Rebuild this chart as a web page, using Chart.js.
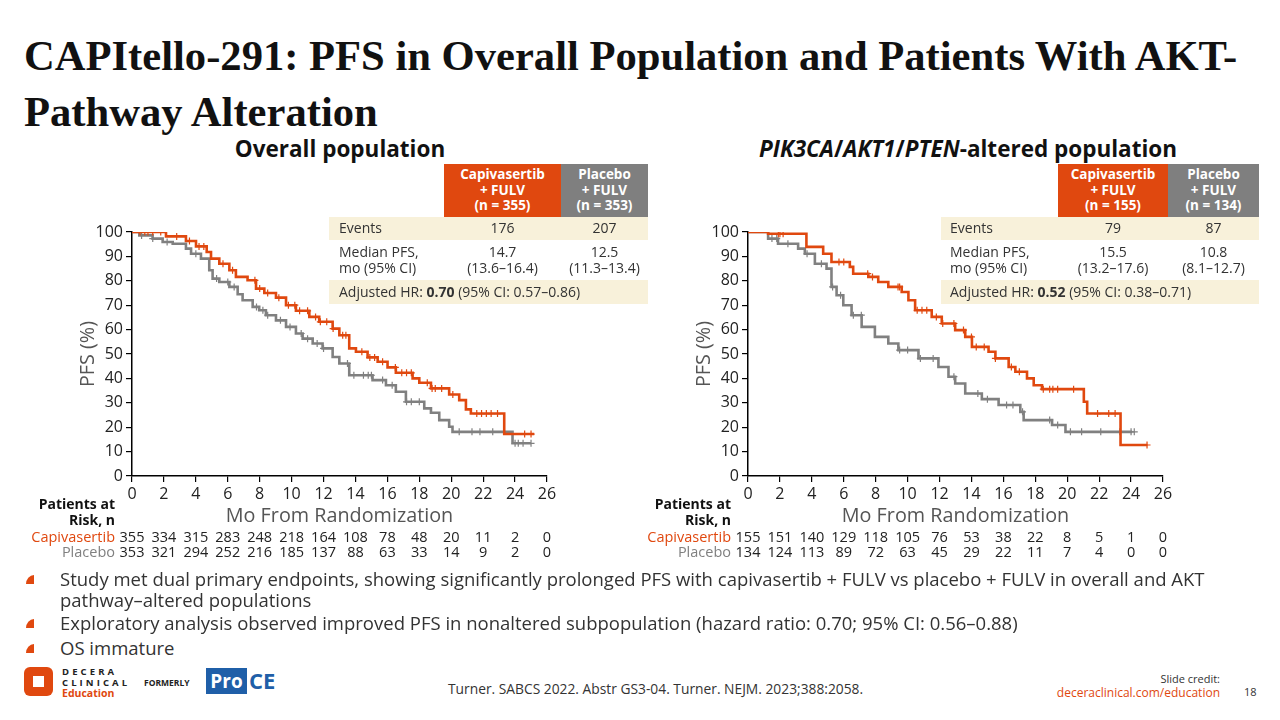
<!DOCTYPE html>
<html><head><meta charset="utf-8">
<script src="https://cdn.jsdelivr.net/npm/chart.js@4/dist/chart.umd.min.js"></script>
<style>
html,body{margin:0;padding:0;background:#fff;}
body{width:1280px;height:720px;position:relative;overflow:hidden;font-family:"Open Sans",sans-serif;color:#222;}
.abs{position:absolute;}
#title{left:24px;top:28px;font-family:"Liberation Serif",serif;font-weight:bold;font-size:42.6px;line-height:56px;color:#111;white-space:nowrap;}
.sub{top:133px;font-weight:bold;font-size:22.5px;color:#111;white-space:nowrap;text-align:center;}
.hdr{color:#fff;font-weight:bold;font-size:13.5px;line-height:15.5px;text-align:center;display:flex;align-items:center;justify-content:center;}
.row{background:#f8f1da;}
.cell{font-size:14px;color:#333;line-height:16px;white-space:nowrap;}
.ctr{text-align:center;}
.bul{left:60px;font-size:18.5px;color:#333;white-space:nowrap;line-height:21px;}
.dot{left:26px;width:8px;height:9px;background:#e0480f;border-top-left-radius:100%;}
canvas{position:absolute;}
</style></head>
<body>
<div id="title" class="abs">CAPItello-291: PFS in Overall Population and Patients With AKT-<br>Pathway Alteration</div>
<div class="abs sub" style="left:190px;width:300px;">Overall population</div>
<div class="abs sub" style="left:718px;width:500px;"><i>PIK3CA</i>/<i>AKT1</i>/<i>PTEN</i>-altered population</div>

<canvas id="c1" width="600" height="380" style="left:0;top:200px;"></canvas>
<canvas id="c2" width="600" height="380" style="left:616px;top:200px;"></canvas>

<!-- left table -->
<div class="abs hdr" style="left:444px;top:164px;width:117px;height:53px;background:#e0480f;">Capivasertib<br>+ FULV<br>(n = 355)</div>
<div class="abs hdr" style="left:561px;top:164px;width:87px;height:53px;background:#7f7f7f;">Placebo<br>+ FULV<br>(n = 353)</div>
<div class="abs row" style="left:329px;top:217px;width:319px;height:23px;"></div>
<div class="abs cell" style="left:339px;top:220px;">Events</div>
<div class="abs cell ctr" style="left:444px;top:220px;width:117px;">176</div>
<div class="abs cell ctr" style="left:561px;top:220px;width:87px;">207</div>
<div class="abs cell" style="left:339px;top:244px;">Median PFS,<br>mo (95% CI)</div>
<div class="abs cell ctr" style="left:444px;top:244px;width:117px;">14.7<br>(13.6–16.4)</div>
<div class="abs cell ctr" style="left:561px;top:244px;width:87px;">12.5<br>(11.3–13.4)</div>
<div class="abs row" style="left:329px;top:280px;width:319px;height:24px;"></div>
<div class="abs cell" style="left:339px;top:284px;">Adjusted HR: <b>0.70</b> (95% CI: 0.57–0.86)</div>

<!-- right table -->
<div class="abs hdr" style="left:1058px;top:164px;width:110px;height:53px;background:#e0480f;">Capivasertib<br>+ FULV<br>(n = 155)</div>
<div class="abs hdr" style="left:1168px;top:164px;width:91px;height:53px;background:#7f7f7f;">Placebo<br>+ FULV<br>(n = 134)</div>
<div class="abs row" style="left:941px;top:217px;width:318px;height:23px;"></div>
<div class="abs cell" style="left:950px;top:220px;">Events</div>
<div class="abs cell ctr" style="left:1058px;top:220px;width:110px;">79</div>
<div class="abs cell ctr" style="left:1168px;top:220px;width:91px;">87</div>
<div class="abs cell" style="left:950px;top:244px;">Median PFS,<br>mo (95% CI)</div>
<div class="abs cell ctr" style="left:1058px;top:244px;width:110px;">15.5<br>(13.2–17.6)</div>
<div class="abs cell ctr" style="left:1168px;top:244px;width:91px;">10.8<br>(8.1–12.7)</div>
<div class="abs row" style="left:941px;top:280px;width:318px;height:24px;"></div>
<div class="abs cell" style="left:950px;top:284px;">Adjusted HR: <b>0.52</b> (95% CI: 0.38–0.71)</div>

<!-- bullets -->
<div class="abs dot" style="top:575px;"></div>
<div class="abs bul" style="top:568px;">Study met dual primary endpoints, showing significantly prolonged PFS with capivasertib + FULV vs placebo + FULV in overall and AKT<br>pathway–altered populations</div>
<div class="abs dot" style="top:619px;"></div>
<div class="abs bul" style="top:612px;">Exploratory analysis observed improved PFS in nonaltered subpopulation (hazard ratio: 0.70; 95% CI: 0.56–0.88)</div>
<div class="abs dot" style="top:644px;"></div>
<div class="abs bul" style="top:637px;">OS immature</div>

<!-- footer -->
<div class="abs" style="left:24px;top:667px;width:29px;height:29px;background:#e0480f;border-radius:6px;"></div>
<div class="abs" style="left:33px;top:676px;width:11px;height:11px;background:#fff;"></div>
<div class="abs" style="left:62px;top:666px;font-size:9.5px;font-weight:bold;letter-spacing:3.1px;line-height:11px;color:#222;">DECERA<br>CLINICAL</div>
<div class="abs" style="left:62px;top:688px;font-size:10.5px;font-weight:bold;line-height:11px;color:#e0480f;">Education</div>
<div class="abs" style="left:144px;top:677px;font-size:8.5px;font-weight:bold;color:#222;">FORMERLY</div>
<div class="abs" style="left:206px;top:668px;width:41px;height:26px;background:#1f5fa8;color:#fff;font-size:19px;font-weight:bold;line-height:26px;text-align:center;">Pro</div>
<div class="abs" style="left:249px;top:667px;color:#1f5fa8;font-size:22px;font-weight:bold;line-height:26px;">CE</div>
<div class="abs" style="left:448px;top:679px;font-size:13.8px;color:#333;white-space:nowrap;">Turner. SABCS 2022. Abstr GS3-04. Turner. NEJM. 2023;388:2058.</div>
<div class="abs" style="right:60px;top:671px;font-size:11px;color:#333;text-align:right;">Slide credit:</div>
<div class="abs" style="right:60px;top:684px;font-size:12px;color:#e0480f;text-align:right;">deceraclinical.com/education</div>
<div class="abs" style="left:1244px;top:684px;font-size:11px;color:#333;">18</div>

<script>
// ---------- data ----------
const monthTicks = [0,2,4,6,8,10,12,14,16,18,20,22,24,26];

// Overall population
const overallCapiT = [0,2.13,3.38,4.01,4.68,4.95,5.47,6.10,6.51,7.24,7.77,8.29,9.02,9.65,10.27,11.11,11.73,12.57,12.99,13.61,14.03,14.76,15.39,16.01,16.53,17.58,18.0,18.73,19.87,20.50,20.92,21.23,23.32,25.2];
const overallCapiS = [100,98.2,96.3,94.1,91.8,89.1,87.0,84.3,81.6,80.2,76.8,75.0,73.1,70.0,67.7,65.2,63.2,60.4,57.7,52.3,50.9,48.6,46.8,44.5,42.3,40.0,38.2,35.9,33.4,31.1,27.3,25.6,17.2,17.2];
const overallPboT = [0,0.46,1.29,1.92,2.55,3.38,3.70,4.32,4.84,5.05,5.47,6.10,6.62,6.93,7.56,7.97,8.39,9.02,9.65,10.27,10.69,11.32,11.94,12.57,12.99,13.61,15.07,15.91,16.53,17.16,18.31,18.73,19.25,19.87,20.08,23.84,24.99];
const overallPboS = [100,98.6,97.3,95.9,95.2,93.2,91.1,89.1,84.3,80.9,79.5,77.5,74.5,72.0,69.3,67.9,65.9,63.8,61.1,58.4,56.3,54.3,52.3,48.8,46.1,41.3,39.3,37.2,34.5,30.4,27.7,25.9,22.9,20.2,18.1,13.4,13.4];
const overallCapiCensor = [0.5,0.8,1.0,1.3,1.8,2.8,3.6,4.2,4.5,5.7,6.3,7.7,8.0,8.5,9.2,9.8,10.2,10.5,11.0,11.5,11.8,12.2,12.6,13.2,13.4,14.4,14.9,15.2,15.7,16.5,16.9,17.2,17.5,18.5,18.8,19.0,19.4,20.1,21.6,21.9,22.2,22.5,22.9,24.6,25.0];
const overallPboCensor = [0.6,1.3,2.2,4.0,5.3,6.0,6.4,7.8,8.2,8.5,9.3,9.9,10.6,11.0,11.6,12.0,13.5,13.9,14.5,14.8,15.0,15.7,16.3,17.2,17.5,18.0,20.5,21.3,21.8,22.6,24.0,24.2,24.5,25.0];
const overallRiskCapi = [355,334,315,283,248,218,164,108,78,48,20,11,2,0];
const overallRiskPbo = [353,321,294,252,216,185,137,88,63,33,14,9,2,0];

// PIK3CA/AKT1/PTEN-altered population
const altCapiT = [0,1.26,3.66,4.71,5.23,6.38,6.59,7.54,8.16,8.79,9.63,10.05,10.47,11.51,12.14,12.98,13.61,14.03,15.07,15.50,16.33,16.75,17.48,17.90,18.42,21.04,21.25,23.34,25.02];
const altCapiS = [100,99.3,93.9,91.1,87.7,85.7,82.9,81.6,79.5,77.5,75.4,72.0,67.9,65.2,62.5,59.8,57.0,52.9,50.9,48.2,44.7,42.7,40.0,37.2,35.6,30.4,25.6,12.7,12.7];
const altPboT = [0,1.26,1.88,3.14,3.56,4.19,4.92,5.23,5.55,5.97,6.49,7.12,7.95,8.79,9.42,10.68,11.93,12.56,12.98,13.61,14.65,15.70,17.06,17.27,19.05,19.89,24.07];
const altPboS = [100,97.3,95.2,93.2,91.1,87.0,85.0,77.5,74.1,70.0,65.9,61.1,57.0,54.3,51.6,48.2,44.7,40.7,37.9,33.8,31.5,29.1,26.3,22.9,20.9,18.1,18.1];
const altCapiCensor = [1.9,2.0,2.2,5.7,6.0,7.5,7.8,9.4,9.5,10.6,10.9,11.2,11.8,12.2,12.9,13.5,14.0,14.3,14.8,15.5,16.5,17.0,18.5,18.9,19.1,19.4,20.4,21.9,22.6,23.0,25.0];
const altPboCensor = [1.5,1.8,2.5,3.7,4.6,5.3,5.8,6.6,7.1,9.5,10.0,10.8,11.6,12.9,14.4,15.0,16.2,16.6,17.2,18.9,19.4,20.2,20.9,22.1,23.3,24.0,24.2];
const altRiskCapi = [155,151,140,129,118,105,76,53,38,22,8,5,1,0];
const altRiskPbo = [134,124,113,89,72,63,45,29,22,11,7,4,0,0];

const ORANGE = '#e0480f';
const GRAY = '#808080';
const FONT = '"Open Sans", sans-serif';

function pts(T, S){ return T.map((t,i)=>({x:t,y:S[i]})); }
function survAt(T,S,t){ let v=S[0]; for(let i=0;i<T.length;i++){ if(T[i]<=t) v=S[i]; } return v; }
function censorPts(C,T,S){ return C.map(t=>({x:t,y:survAt(T,S,t)})); }

function makeChart(id, capT, capS, pboT, pboS, capC, pboC, riskCap, riskPbo){
  const riskPlugin = {
    id:'risk',
    afterDraw(chart){
      const ctx = chart.ctx, xs = chart.scales.x;
      ctx.save();
      ctx.textBaseline='middle';
      ctx.textAlign='right';
      ctx.font = 'bold 14px '+FONT; ctx.fillStyle='#111';
      ctx.fillText('Patients at',115,305);
      ctx.fillText('Risk, n',115,321);
      ctx.font = '14.5px '+FONT;
      ctx.fillStyle=ORANGE; ctx.fillText('Capivasertib',115,338);
      ctx.fillStyle=GRAY; ctx.fillText('Placebo',115,353);
      ctx.textAlign='center'; ctx.fillStyle='#222'; ctx.font='14.5px '+FONT;
      monthTicks.forEach((m,i)=>{
        const x = xs.getPixelForValue(m);
        ctx.fillText(String(riskCap[i]),x,338);
        ctx.fillText(String(riskPbo[i]),x,353);
      });
      ctx.restore();
    }
  };
  return new Chart(document.getElementById(id),{
    type:'line',
    data:{datasets:[
      {data:pts(capT,capS),stepped:'before',borderColor:ORANGE,borderWidth:2.6,pointRadius:0,order:1},
      {data:censorPts(capC,capT,capS),showLine:false,pointStyle:'cross',pointRadius:3.5,borderColor:ORANGE,borderWidth:1.2,order:1},
      {data:pts(pboT,pboS),stepped:'before',borderColor:GRAY,borderWidth:2.6,pointRadius:0,order:2},
      {data:censorPts(pboC,pboT,pboS),showLine:false,pointStyle:'cross',pointRadius:3.5,borderColor:GRAY,borderWidth:1.2,order:2}
    ]},
    options:{
      responsive:false,animation:false,
      layout:{padding:{left:72,right:53,top:32,bottom:49}},
      plugins:{legend:{display:false},tooltip:{enabled:false}},
      scales:{
        x:{type:'linear',min:0,max:26,
          afterBuildTicks(s){ s.ticks = monthTicks.map(v=>({value:v})); },
          afterFit(s){ s.height = 55; },
          ticks:{font:{size:16,family:FONT},color:'#222',padding:3,maxRotation:0,autoSkip:false},
          grid:{drawOnChartArea:false,drawTicks:true,tickLength:6,color:'#000',lineWidth:1.2},
          border:{color:'#000',width:1.5},
          title:{display:true,text:'Mo From Randomization',font:{size:19.8,family:FONT},color:'#555',padding:{top:2,bottom:3}}
        },
        y:{min:0,max:100,
          ticks:{stepSize:10,font:{size:16,family:FONT},color:'#222',padding:3},
          afterFit(s){ s.width = 60; },
          grid:{drawOnChartArea:false,drawTicks:true,tickLength:6,color:'#000',lineWidth:1.2},
          border:{color:'#000',width:1.5},
          title:{display:true,text:'PFS (%)',font:{size:19.8,family:FONT},color:'#555',padding:4}
        }
      }
    },
    plugins:[riskPlugin]
  });
}

makeChart('c1', overallCapiT, overallCapiS, overallPboT, overallPboS, overallCapiCensor, overallPboCensor, overallRiskCapi, overallRiskPbo);
makeChart('c2', altCapiT, altCapiS, altPboT, altPboS, altCapiCensor, altPboCensor, altRiskCapi, altRiskPbo);
</script>
</body></html>
